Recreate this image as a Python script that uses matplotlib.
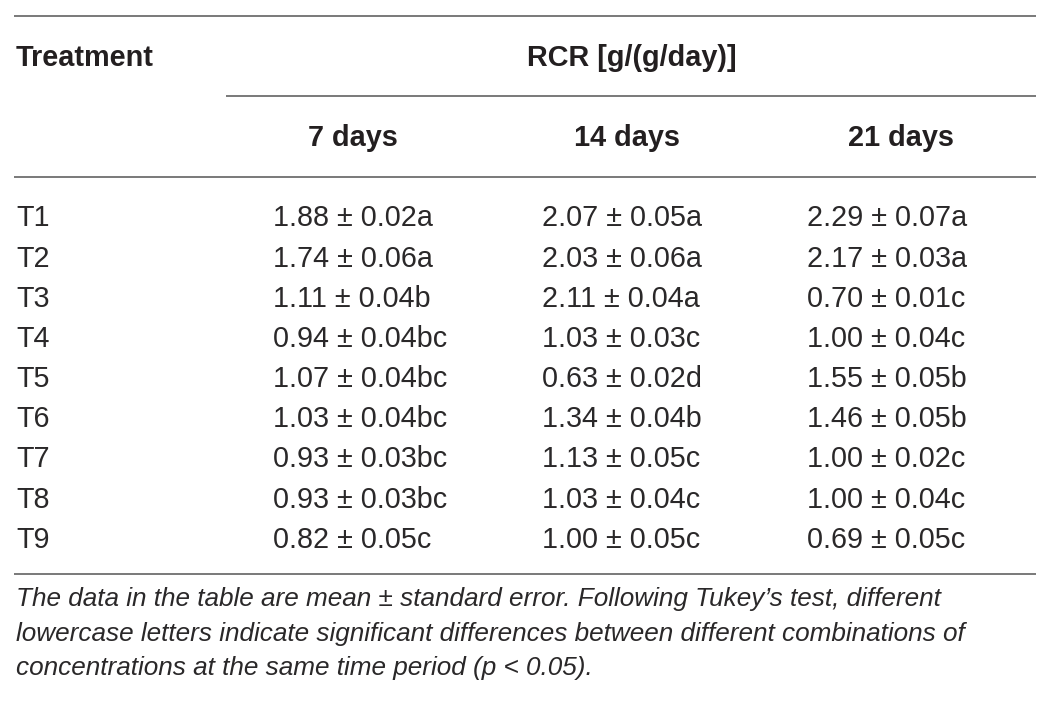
import matplotlib
matplotlib.use("Agg")
import matplotlib.pyplot as plt

# ---- data ----
treatments = ["T1", "T2", "T3", "T4", "T5", "T6", "T7", "T8", "T9"]
periods = ["7 days", "14 days", "21 days"]
mean_7 = [1.88, 1.74, 1.11, 0.94, 1.07, 1.03, 0.93, 0.93, 0.82]
se_7 = [0.02, 0.06, 0.04, 0.04, 0.04, 0.04, 0.03, 0.03, 0.05]
let_7 = ["a", "a", "b", "bc", "bc", "bc", "bc", "bc", "c"]
mean_14 = [2.07, 2.03, 2.11, 1.03, 0.63, 1.34, 1.13, 1.03, 1.00]
se_14 = [0.05, 0.06, 0.04, 0.03, 0.02, 0.04, 0.05, 0.04, 0.05]
let_14 = ["a", "a", "a", "c", "d", "b", "c", "c", "c"]
mean_21 = [2.29, 2.17, 0.70, 1.00, 1.55, 1.46, 1.00, 1.00, 0.69]
se_21 = [0.07, 0.03, 0.01, 0.04, 0.05, 0.05, 0.02, 0.04, 0.05]
let_21 = ["a", "a", "c", "c", "b", "b", "c", "c", "c"]
row_header = "Treatment"
group_header = "RCR [g/(g/day)]"
footnote = [
    "The data in the table are mean \u00b1 standard error. Following Tukey\u2019s test, different",
    "lowercase letters indicate significant differences between different combinations of",
    "concentrations at the same time period (p < 0.05).",
]

# ---- layout ----
W, H = 1054, 709
fig = plt.figure(figsize=(W / 100, H / 100), dpi=100)
ax = fig.add_axes([0, 0, 1, 1])
ax.set_xlim(0, W)
ax.set_ylim(H, 0)
ax.axis("off")

FONT = ["Liberation Sans", "DejaVu Sans"]
TXT = "#231f20"
BODY = "#2a2829"
LINE = "#6e6e6e"
FS_HEAD = 20.8
FS_BODY = 20.7
FS_NOTE = 18.8
lw = 1.3

def hline(y, x0, x1):
    ax.plot([x0, x1], [y, y], color=LINE, lw=lw, solid_capstyle="butt")

hline(16, 14, 1036)
hline(96, 226, 1036)
hline(177, 14, 1036)
hline(574, 14, 1036)

ax.text(16, 66.5, row_header, fontsize=FS_HEAD, fontweight="bold", family=FONT,
        color=TXT, ha="left", va="baseline")
ax.text(632, 66.5, group_header, fontsize=FS_HEAD, fontweight="bold", family=FONT,
        color=TXT, ha="center", va="baseline")

col_centers = [353, 627, 901]
col_left = [273, 542, 807]
for cx, p in zip(col_centers, periods):
    ax.text(cx, 146.5, p, fontsize=FS_HEAD, fontweight="bold", family=FONT,
            color=TXT, ha="center", va="baseline")

cols = [(mean_7, se_7, let_7), (mean_14, se_14, let_14), (mean_21, se_21, let_21)]
base0, step = 226.5, 40.15
for i, t in enumerate(treatments):
    yb = base0 + i * step
    ax.text(16, yb, t, fontsize=FS_BODY, family=FONT, color=BODY, ha="left", va="baseline")
    for xl, (m, s, l) in zip(col_left, cols):
        ax.text(xl, yb, f"{m[i]:.2f} \u00b1 {s[i]:.2f}{l[i]}", fontsize=FS_BODY,
                family=FONT, color=BODY, ha="left", va="baseline")

for k, line in enumerate(footnote):
    ax.text(16, 606 + k * 34.5, line, fontsize=FS_NOTE, family=FONT, style="italic",
            color=BODY, ha="left", va="baseline")

fig.savefig("out.png", dpi=100, facecolor="white")
